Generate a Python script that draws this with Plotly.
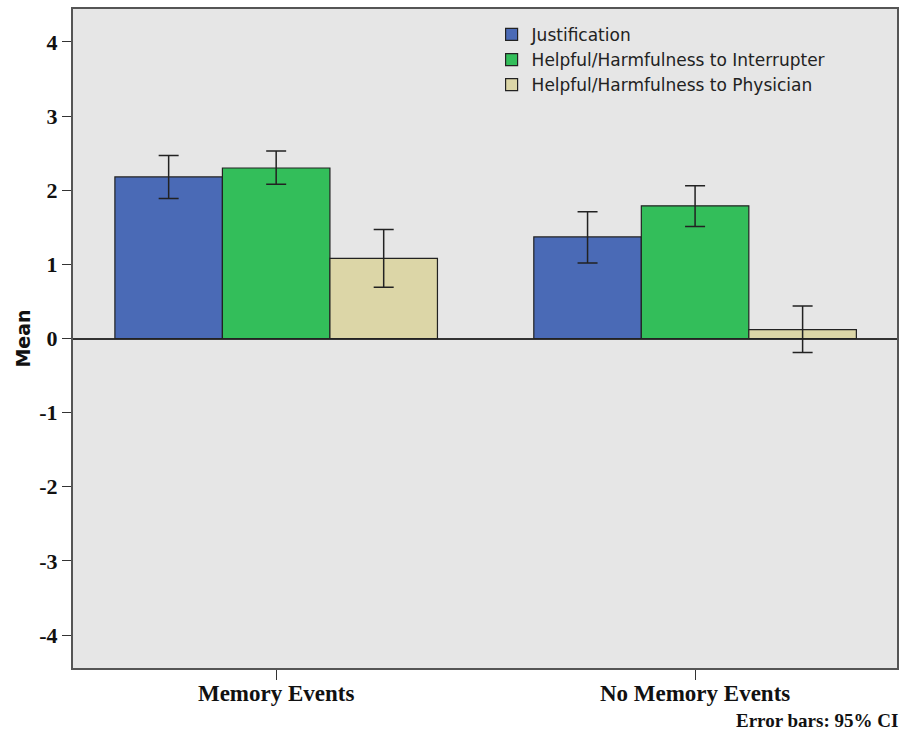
import plotly.graph_objects as go

# Group means with 95% confidence intervals
categories = ["Memory Events", "No Memory Events"]
series_names = [
    "Justification",
    "Helpful/Harmfulness to Interrupter",
    "Helpful/Harmfulness to Physician",
]
justification = [2.18, 1.37]
justification_lo = [1.89, 1.02]
justification_hi = [2.47, 1.71]

interrupter = [2.30, 1.79]
interrupter_lo = [2.08, 1.51]
interrupter_hi = [2.53, 2.06]

physician = [1.08, 0.12]
physician_lo = [0.69, -0.19]
physician_hi = [1.47, 0.44]

y_ticks = [-4, -3, -2, -1, 0, 1, 2, 3, 4]

colors = ["#4a6ab6", "#33be5a", "#dcd6a7"]

fig = go.Figure()
for name, means, lo, hi, col in [
    (series_names[0], justification, justification_lo, justification_hi, colors[0]),
    (series_names[1], interrupter, interrupter_lo, interrupter_hi, colors[1]),
    (series_names[2], physician, physician_lo, physician_hi, colors[2]),
]:
    fig.add_trace(go.Bar(
        x=categories,
        y=means,
        name=name,
        marker=dict(color=col, line=dict(color="#222222", width=1.2)),
        error_y=dict(
            type="data",
            symmetric=False,
            array=[h - m for h, m in zip(hi, means)],
            arrayminus=[m - l for m, l in zip(means, lo)],
            color="#222222",
            thickness=1.5,
            width=10,
        ),
    ))

fig.update_layout(
    width=905,
    height=733,
    margin=dict(l=73, r=6, t=9, b=65),
    paper_bgcolor="white",
    plot_bgcolor="#e6e6e6",
    barmode="group",
    bargap=0.23,
    bargroupgap=0,
    showlegend=True,
    legend=dict(
        x=0.508,
        y=0.988,
        xanchor="left",
        yanchor="top",
        bgcolor="rgba(0,0,0,0)",
        font=dict(family="DejaVu Sans", size=17, color="#222222"),
        tracegroupgap=0,
        itemwidth=30,
    ),
    xaxis=dict(
        range=[-0.485, 1.482],
        showgrid=False,
        ticks="outside",
        ticklen=10,
        tickcolor="#333333",
        tickwidth=1.2,
        showline=True,
        linecolor="#555555",
        linewidth=2,
        mirror=True,
        tickfont=dict(family="Liberation Serif", size=23, color="#111111"),
        tickprefix="<b>",
        ticksuffix="</b>",
        ticklabelstandoff=-7,
    ),
    yaxis=dict(
        range=[-4.445, 4.445],
        tickvals=y_ticks,
        ticktext=[f"<b>{v}</b>" for v in y_ticks],
        showgrid=False,
        zeroline=True,
        zerolinecolor="#333333",
        zerolinewidth=1.5,
        ticks="outside",
        ticklen=9,
        tickcolor="#333333",
        tickwidth=1.2,
        showline=True,
        linecolor="#555555",
        linewidth=2,
        mirror=True,
        tickfont=dict(family="Liberation Serif", size=22, color="#111111"),
        title=dict(
            text="<b>Mean</b>",
            font=dict(family="DejaVu Sans", size=19, color="#111111"),
            standoff=4,
        ),
    ),
    annotations=[
        dict(
            text="<b>Error bars: 95% CI</b>",
            xref="paper", yref="paper",
            x=1.0, y=-0.079,
            xanchor="right", yanchor="middle",
            xshift=3,
            showarrow=False,
            font=dict(family="Liberation Serif", size=19, color="#111111"),
        )
    ],
)

fig.write_html("out.html")
